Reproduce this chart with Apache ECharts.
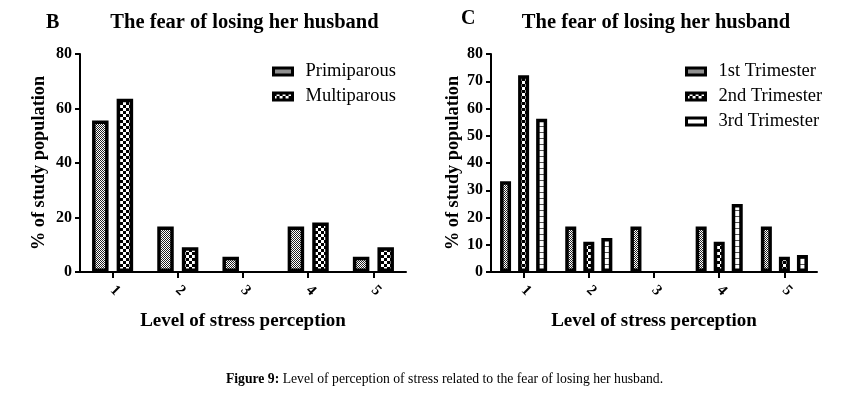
<!DOCTYPE html>
<html>
<head>
<meta charset="utf-8">
<script src="https://cdn.jsdelivr.net/npm/echarts@6/dist/echarts.min.js"></script>
<style>
html,body{margin:0;padding:0;background:#fff;}
#chart{width:864px;height:393px;}
</style>
</head>
<body>
<div id="chart"></div>
<script>
// ---- Data ----
const categories = ['1', '2', '3', '4', '5'];
const parityNames = ['Primiparous', 'Multiparous'];
const primiparous = [55.6, 16.7, 5.6, 16.7, 5.6];
const multiparous = [63.6, 9.1, 0, 18.2, 9.1];
const trimesterNames = ['1st Trimester', '2nd Trimester', '3rd Trimester'];
const trimester1 = [33.3, 16.7, 16.7, 16.7, 16.7];
const trimester2 = [72.2, 11.1, 0, 11.1, 5.6];
const trimester3 = [56.25, 12.5, 0, 25, 6.25];
const leftTicks = [0, 20, 40, 60, 80];
const rightTicks = [0, 10, 20, 30, 40, 50, 60, 70, 80];
const panelTitle = 'The fear of losing her husband';
const xName = 'Level of stress perception';
const yName = '% of study population';

// ---- Patterns ----
function makePattern(w, h, draw) {
  const c = document.createElement('canvas');
  c.width = w; c.height = h;
  const ctx = c.getContext('2d');
  ctx.fillStyle = '#fff'; ctx.fillRect(0, 0, w, h);
  draw(ctx);
  return { image: c, repeat: 'repeat' };
}
const fineChecker = makePattern(2, 2, ctx => {
  ctx.fillStyle = '#222'; ctx.fillRect(0, 0, 1, 1); ctx.fillRect(1, 1, 1, 1);
});
const bigChecker = makePattern(6, 6, ctx => {
  ctx.fillStyle = '#000'; ctx.fillRect(0, 0, 3, 3); ctx.fillRect(3, 3, 3, 3);
});
const medChecker = makePattern(6, 6, ctx => {
  ctx.fillStyle = '#000'; ctx.fillRect(0, 0, 3, 3); ctx.fillRect(3, 3, 3, 3);
});
const stripes = makePattern(2, 6, ctx => {
  ctx.fillStyle = '#555'; ctx.fillRect(0, 0, 2, 1);
});

const FONT = 'Liberation Serif';
const axisLine = { lineStyle: { color: '#000', width: 2 } };

function yAxis(grid, ticks, interval, nameGap) {
  return {
    gridIndex: grid, type: 'value', min: 0, max: ticks[ticks.length - 1], interval: interval,
    name: yName, nameLocation: 'middle', nameGap: nameGap,
    nameTextStyle: { fontFamily: FONT, fontWeight: 'bold', fontSize: 18.3, color: '#000' },
    axisLine: Object.assign({ show: true }, axisLine),
    axisTick: { show: true, length: 5, lineStyle: { color: '#000', width: 2 } },
    axisLabel: { fontFamily: FONT, fontWeight: 'bold', fontSize: 16, color: '#000', margin: 8 },
    splitLine: { show: false }
  };
}
function xAxis(grid) {
  return {
    gridIndex: grid, type: 'category', data: categories,
    name: xName, nameLocation: 'middle', nameGap: 40,
    nameTextStyle: { fontFamily: FONT, fontWeight: 'bold', fontSize: 19, color: '#000' },
    axisLine: axisLine,
    axisTick: { show: true, alignWithLabel: true, length: 6, lineStyle: { color: '#000', width: 2 } },
    axisLabel: { fontFamily: FONT, fontWeight: 'bold', fontSize: 15, color: '#000', rotate: -45, margin: 16 }
  };
}
function barSeries(name, data, pattern, xi, width, gap) {
  return {
    name: name, type: 'bar', xAxisIndex: xi, yAxisIndex: xi,
    data: data.map(v => v === 0 ? { value: v, itemStyle: { borderWidth: 0, opacity: 0 } } : v),
    barWidth: width, barGap: gap,
    itemStyle: { color: pattern, borderColor: '#000', borderWidth: 3.5 },
    emphasis: { disabled: true }
  };
}

const chart = echarts.init(document.getElementById('chart'), null, { renderer: 'canvas' });
const legendText = { fontFamily: FONT, fontSize: 18.5, color: '#000', padding: [0, 0, 0, 8] };
const legendItem = { borderWidth: 3, borderColor: '#000' };
chart.setOption({
  animation: false,
  backgroundColor: '#fff',
  title: [
    { text: 'B', left: 46, top: 13, padding: 0, textStyle: { fontFamily: FONT, fontWeight: 'bold', fontSize: 20, color: '#000' } },
    { text: panelTitle, left: 244.5, top: 12.5, padding: 0, textAlign: 'center', textStyle: { fontFamily: FONT, fontWeight: 'bold', fontSize: 20.5, color: '#000' } },
    { text: 'C', left: 461, top: 9, padding: 0, textStyle: { fontFamily: FONT, fontWeight: 'bold', fontSize: 20, color: '#000' } },
    { text: panelTitle, left: 656, top: 12.5, padding: 0, textAlign: 'center', textStyle: { fontFamily: FONT, fontWeight: 'bold', fontSize: 20.5, color: '#000' } },
    { text: '{b|Figure 9:} Level of perception of stress related to the fear of losing her husband.', left: 444.5, top: 372, padding: 0, textAlign: 'center',
      textStyle: { fontFamily: FONT, fontSize: 13.7, fontWeight: 'normal', color: '#000',
        rich: { b: { fontFamily: FONT, fontSize: 13.7, fontWeight: 'bold', color: '#000' } } } }
  ],
  legend: [
    { data: parityNames, left: 272, top: 62, padding: 0, orient: 'vertical', icon: 'rect', itemWidth: 19, itemHeight: 7, itemGap: 6,
      textStyle: legendText, itemStyle: legendItem },
    { data: trimesterNames, left: 685, top: 62, padding: 0, orient: 'vertical', icon: 'rect', itemWidth: 19, itemHeight: 7, itemGap: 6,
      textStyle: legendText, itemStyle: legendItem }
  ],
  grid: [
    { left: 80, top: 54, width: 326, height: 218 },
    { left: 491, top: 54, width: 326, height: 218 }
  ],
  xAxis: [xAxis(0), xAxis(1)],
  yAxis: [yAxis(0, leftTicks, 20, 32), yAxis(1, rightTicks, 10, 29)],
  series: [
    barSeries(parityNames[0], primiparous, fineChecker, 0, 16.5, '49%'),
    barSeries(parityNames[1], multiparous, bigChecker, 0, 16.5, '49%'),
    barSeries(trimesterNames[0], trimester1, fineChecker, 1, 11, '64%'),
    barSeries(trimesterNames[1], trimester2, medChecker, 1, 11, '64%'),
    barSeries(trimesterNames[2], trimester3, stripes, 1, 11, '64%')
  ]
});
</script>
</body>
</html>
